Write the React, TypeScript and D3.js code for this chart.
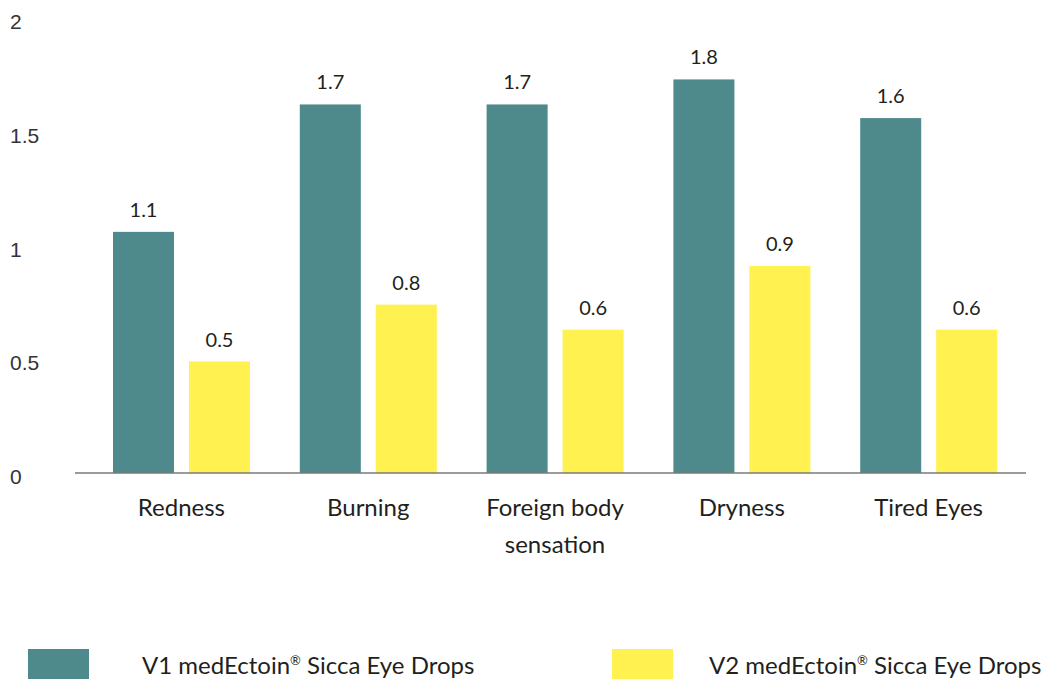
import React from "react";
import * as d3 from "d3";

const categories = ["Redness", "Burning", "Foreign body sensation", "Dryness", "Tired Eyes"];
const categoryLines = [["Redness"], ["Burning"], ["Foreign body", "sensation"], ["Dryness"], ["Tired Eyes"]];
const seriesKeys = ["v1", "v2"];
const seriesPrefix = ["V1 medEctoin", "V2 medEctoin"];
const seriesSuffix = [" Sicca Eye Drops", " Sicca Eye Drops"];
const v1Values = [1.06, 1.62, 1.62, 1.73, 1.56];
const v2Values = [0.49, 0.74, 0.63, 0.91, 0.63];
const v1Labels = ["1.1", "1.7", "1.7", "1.8", "1.6"];
const v2Labels = ["0.5", "0.8", "0.6", "0.9", "0.6"];
const yTicks = [0, 0.5, 1, 1.5, 2];
const yTickLabels = ["0", "0.5", "1", "1.5", "2"];

const colors = ["#4e8a8b", "#fff14f"];
const textColor = "#231f20";
const font = "Lato, 'Open Sans', sans-serif";

export default function App() {
  const x = d3.scaleBand<string>().domain(categories).range([88, 1022]).padding(0);
  const xi = d3.scaleBand<string>().domain(seriesKeys).range([25, 162]).paddingInner(0.197).paddingOuter(0);
  const y = d3.scaleLinear().domain([0, 2]).range([473, 18]);
  const series = [
    { key: "v1", values: v1Values, labels: v1Labels, color: colors[0] },
    { key: "v2", values: v2Values, labels: v2Labels, color: colors[1] },
  ];
  const legendSwatchX = [28, 612];
  const legendTextX = [142, 709];

  return (
    <svg
      width={1049}
      height={679}
      style={{ position: "absolute", left: 0, top: 0, background: "#fff" }}
      fontFamily={font}
    >
      <rect x={0} y={0} width={1049} height={679} fill="#fff" />
      {yTicks.map((t, i) => (
        <text
          key={t}
          x={10}
          y={y(t) + 11}
          fontSize={21}
          fill="#333"
          fontFamily="'Liberation Sans', Arial, sans-serif"
        >
          {yTickLabels[i]}
        </text>
      ))}
      {series.map((s) =>
        categories.map((c, i) => {
          const bx = (x(c) as number) + (xi(s.key) as number);
          const bw = xi.bandwidth();
          return (
            <g key={s.key + c}>
              <rect x={bx} y={y(s.values[i])} width={bw} height={y(0) - y(s.values[i])} fill={s.color} />
              <text
                x={bx + bw / 2}
                y={y(s.values[i]) - 15}
                textAnchor="middle"
                fontSize={20}
                fill={textColor}
              >
                {s.labels[i]}
              </text>
            </g>
          );
        })
      )}
      <line x1={75} x2={1026} y1={y(0)} y2={y(0)} stroke="#7a7a7a" strokeWidth={1.5} />
      {categories.map((c, i) => (
        <text key={c} x={(x(c) as number) + x.bandwidth() / 2} textAnchor="middle" fontSize={24} fill={textColor}>
          {categoryLines[i].map((line, j) => (
            <tspan key={j} x={(x(c) as number) + x.bandwidth() / 2} y={516 + j * 37}>
              {line}
            </tspan>
          ))}
        </text>
      ))}
      {seriesKeys.map((k, i) => (
        <g key={k}>
          <rect x={legendSwatchX[i]} y={649} width={61} height={40} fill={colors[i]} />
          <text x={legendTextX[i]} y={674} fontSize={24} fill={textColor}>
            {seriesPrefix[i]}
            <tspan fontSize={13} dy={-9}>®</tspan>
            <tspan dy={9}>{seriesSuffix[i]}</tspan>
          </text>
        </g>
      ))}
    </svg>
  );
}
